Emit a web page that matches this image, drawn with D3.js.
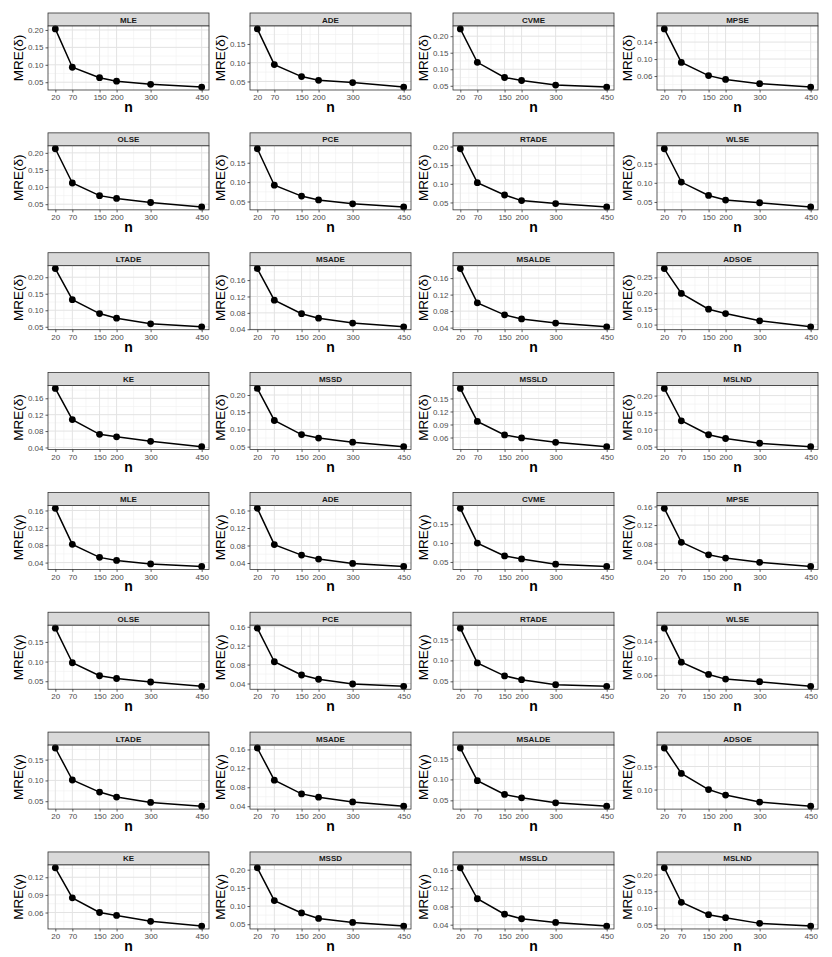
<!DOCTYPE html>
<html>
<head>
<meta charset="utf-8">
<script src="https://cdn.jsdelivr.net/npm/d3@7"></script>
<style>
  html, body { margin: 0; padding: 0; background: #fff; }
  svg { display: block; font-family: "Liberation Sans", Arial, sans-serif; }
</style>
</head>
<body>
<svg id="chart" width="832" height="957"></svg>
<script>
// ---------------- DATA ----------------
const nValues = [20, 70, 150, 200, 300, 450];
const methods = ["MLE","ADE","CVME","MPSE","OLSE","PCE","RTADE","WLSE",
                 "LTADE","MSADE","MSALDE","ADSOE","KE","MSSD","MSSLD","MSLND"];

// MRE(delta) per method (same order as methods)
const mreDelta = [
  [0.203, 0.093, 0.063, 0.053, 0.044, 0.036], // MLE
  [0.190, 0.095, 0.063, 0.053, 0.047, 0.035], // ADE
  [0.222, 0.121, 0.075, 0.066, 0.052, 0.046], // CVME
  [0.171, 0.092, 0.061, 0.052, 0.042, 0.034], // MPSE
  [0.212, 0.112, 0.075, 0.067, 0.055, 0.042], // OLSE
  [0.186, 0.092, 0.064, 0.054, 0.044, 0.036], // PCE
  [0.194, 0.103, 0.070, 0.055, 0.047, 0.038], // RTADE
  [0.189, 0.102, 0.067, 0.055, 0.048, 0.037], // WLSE
  [0.226, 0.132, 0.090, 0.076, 0.059, 0.050], // LTADE
  [0.188, 0.111, 0.078, 0.067, 0.055, 0.046], // MSADE
  [0.183, 0.100, 0.071, 0.061, 0.051, 0.042], // MSALDE
  [0.278, 0.199, 0.149, 0.135, 0.112, 0.093], // ADSOE
  [0.184, 0.108, 0.072, 0.066, 0.055, 0.042], // KE
  [0.219, 0.126, 0.085, 0.075, 0.063, 0.050], // MSSD
  [0.173, 0.097, 0.066, 0.059, 0.049, 0.039], // MSSLD
  [0.221, 0.126, 0.085, 0.074, 0.060, 0.050]  // MSLND
];

// MRE(gamma) per method
const mreGamma = [
  [0.165, 0.082, 0.052, 0.045, 0.037, 0.031], // MLE
  [0.165, 0.082, 0.058, 0.049, 0.039, 0.032], // ADE
  [0.192, 0.100, 0.066, 0.058, 0.044, 0.038], // CVME
  [0.156, 0.083, 0.056, 0.049, 0.040, 0.031], // MPSE
  [0.185, 0.097, 0.064, 0.057, 0.048, 0.037], // OLSE
  [0.157, 0.086, 0.058, 0.049, 0.039, 0.034], // PCE
  [0.177, 0.094, 0.063, 0.054, 0.042, 0.038], // RTADE
  [0.171, 0.091, 0.062, 0.051, 0.045, 0.034], // WLSE
  [0.178, 0.101, 0.072, 0.060, 0.047, 0.038], // LTADE
  [0.163, 0.095, 0.066, 0.059, 0.049, 0.040], // MSADE
  [0.175, 0.097, 0.064, 0.056, 0.044, 0.036], // MSALDE
  [0.190, 0.135, 0.100, 0.088, 0.073, 0.064], // ADSOE
  [0.136, 0.085, 0.060, 0.055, 0.045, 0.037], // KE
  [0.205, 0.115, 0.081, 0.066, 0.055, 0.045], // MSSD
  [0.165, 0.097, 0.063, 0.053, 0.045, 0.037], // MSSLD
  [0.220, 0.117, 0.080, 0.071, 0.054, 0.046]  // MSLND
];

// y tick labels per panel
const deltaTicks = [
  [0.05,0.10,0.15,0.20], [0.05,0.10,0.15], [0.05,0.10,0.15,0.20], [0.06,0.10,0.14],
  [0.05,0.10,0.15,0.20], [0.05,0.10,0.15], [0.05,0.10,0.15,0.20], [0.05,0.10,0.15],
  [0.05,0.10,0.15,0.20], [0.04,0.08,0.12,0.16], [0.04,0.08,0.12,0.16], [0.10,0.15,0.20,0.25],
  [0.04,0.08,0.12,0.16], [0.05,0.10,0.15,0.20], [0.06,0.09,0.12,0.15], [0.05,0.10,0.15,0.20]
];
const gammaTicks = [
  [0.04,0.08,0.12,0.16], [0.04,0.08,0.12,0.16], [0.05,0.10,0.15], [0.04,0.08,0.12,0.16],
  [0.05,0.10,0.15], [0.04,0.08,0.12,0.16], [0.05,0.10,0.15], [0.06,0.10,0.14],
  [0.05,0.10,0.15], [0.04,0.08,0.12,0.16], [0.05,0.10,0.15], [0.10,0.15],
  [0.06,0.09,0.12], [0.05,0.10,0.15,0.20], [0.04,0.08,0.12,0.16], [0.05,0.10,0.15,0.20]
];
const paramLabels = ["MRE(δ)", "MRE(γ)"];

// ---------------- LAYOUT ----------------
const svg = d3.select("#chart");
const colLeft = [48, 250, 453, 657];
const panelW = 161;
const rowPitch = 119.85;
const firstTop = 13;
const stripH = 13;
const plotH = 64;

const x = d3.scaleLinear()
  .domain([nValues[0] - 0.05 * (nValues[5] - nValues[0]), nValues[5] + 0.05 * (nValues[5] - nValues[0])])
  .range([0, panelW]);
const xMinor = d3.pairs(nValues).map(([a, b]) => (a + b) / 2);

for (let i = 0; i < 32; i++) {
  const p = i < 16 ? 0 : 1;
  const m = i % 16;
  const r = Math.floor(i / 4), c = i % 4;
  const vals = p === 0 ? mreDelta[m] : mreGamma[m];
  const ticks = p === 0 ? deltaTicks[m] : gammaTicks[m];
  const data = nValues.map((n, k) => ({ n, v: vals[k] }));

  const left = colLeft[c];
  const top = firstTop + r * rowPitch;
  const g = svg.append("g").attr("transform", `translate(${left},${top})`);

  // strip
  g.append("rect").attr("x", 0).attr("y", 0).attr("width", panelW).attr("height", stripH)
    .attr("fill", "#d9d9d9").attr("stroke", "#333").attr("stroke-width", 0.8);
  g.append("text").attr("x", panelW / 2).attr("y", stripH / 2 + 3)
    .attr("text-anchor", "middle").attr("font-size", 8).attr("font-weight", "bold")
    .attr("fill", "#1a1a1a").text(methods[m]);

  const pg = g.append("g").attr("transform", `translate(0,${stripH})`);
  const [mn, mx] = d3.extent(vals);
  const pad = (mx - mn) * 0.05;
  const y = d3.scaleLinear().domain([mn - pad, mx + pad]).range([plotH, 0]);

  pg.append("rect").attr("width", panelW).attr("height", plotH).attr("fill", "#fff");

  // minor grid
  const step = ticks[1] - ticks[0];
  const yMinor = [];
  for (let t = ticks[0] - step / 2; t <= mx + pad + 1e-9; t += step) {
    if (t >= mn - pad && t <= mx + pad) yMinor.push(t);
  }
  pg.selectAll(".ymin").data(yMinor).enter().append("line")
    .attr("x1", 0).attr("x2", panelW).attr("y1", d => y(d)).attr("y2", d => y(d))
    .attr("stroke", "#f0f0f0").attr("stroke-width", 0.6);
  pg.selectAll(".xmin").data(xMinor).enter().append("line")
    .attr("y1", 0).attr("y2", plotH).attr("x1", d => x(d)).attr("x2", d => x(d))
    .attr("stroke", "#f0f0f0").attr("stroke-width", 0.6);
  // major grid
  pg.selectAll(".ymaj").data(ticks).enter().append("line")
    .attr("x1", 0).attr("x2", panelW).attr("y1", d => y(d)).attr("y2", d => y(d))
    .attr("stroke", "#e3e3e3").attr("stroke-width", 1);
  pg.selectAll(".xmaj").data(nValues).enter().append("line")
    .attr("y1", 0).attr("y2", plotH).attr("x1", d => x(d)).attr("x2", d => x(d))
    .attr("stroke", "#e3e3e3").attr("stroke-width", 1);

  // line + points
  pg.append("path").datum(data)
    .attr("d", d3.line().x(d => x(d.n)).y(d => y(d.v)))
    .attr("fill", "none").attr("stroke", "#000").attr("stroke-width", 1.5);
  pg.selectAll(".pt").data(data).enter().append("circle")
    .attr("cx", d => x(d.n)).attr("cy", d => y(d.v)).attr("r", 3.4).attr("fill", "#000");

  // border
  pg.append("rect").attr("width", panelW).attr("height", plotH)
    .attr("fill", "none").attr("stroke", "#333").attr("stroke-width", 0.8);

  // axes
  const ya = pg.append("g").call(d3.axisLeft(y).tickValues(ticks).tickSize(2.5).tickPadding(2)
    .tickFormat(d3.format(".2f")));
  const xa = pg.append("g").attr("transform", `translate(0,${plotH})`)
    .call(d3.axisBottom(x).tickValues(nValues).tickSize(2.5).tickPadding(2).tickFormat(d3.format("d")));
  [ya, xa].forEach(a => {
    a.select(".domain").remove();
    a.selectAll("line").attr("stroke", "#333").attr("stroke-width", 0.8);
    a.selectAll("text").attr("fill", "#4d4d4d").attr("font-size", 8)
      .attr("font-family", "'Liberation Sans', Arial, sans-serif");
  });

  // axis titles
  pg.append("text")
    .attr("transform", `translate(${-25},${plotH / 2}) rotate(-90)`)
    .attr("text-anchor", "middle").attr("font-size", 13.5).attr("fill", "#000")
    .text(paramLabels[p]);
  pg.append("text").attr("x", panelW / 2).attr("y", plotH + 22)
    .attr("text-anchor", "middle").attr("font-size", 14).attr("font-weight", "bold")
    .attr("fill", "#000").text("n");
}
</script>
</body>
</html>
